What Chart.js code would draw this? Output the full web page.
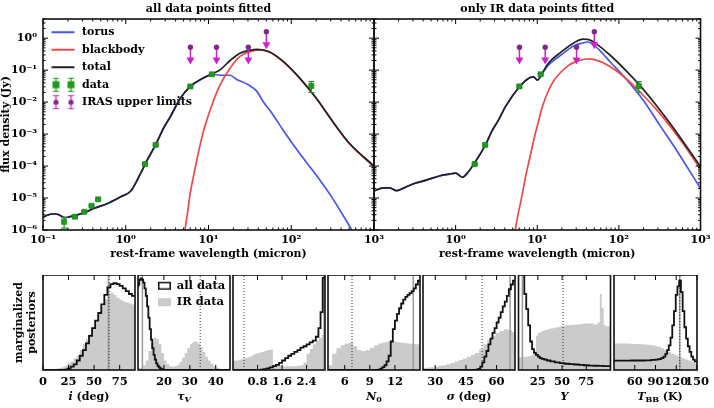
<!DOCTYPE html>
<html><head><meta charset="utf-8">
<script src="https://cdn.jsdelivr.net/npm/chart.js"></script>
<style>
html,body{margin:0;padding:0;background:#fff;}
#wrap{position:relative;width:714px;height:408px;overflow:hidden;background:#fff;}
#wrap canvas{position:absolute;left:0;top:0;}
.xl{position:absolute;top:390px;font:bold 11px "DejaVu Serif",serif;line-height:13px;color:#000;transform:translateX(-50%);white-space:nowrap;}
.xl i{font-style:italic;}
.xl sub{font-size:8px;line-height:0;vertical-align:-2px;}
</style></head><body><div id="wrap"></div>
<script>
// ================= DATA =================
// SED, left panel ("all data points fitted"): wavelength (micron) and flux density (Jy)
const lamTorusA = [0.1,0.115,0.126,0.145,0.158,0.182,0.2,0.24,0.316,0.417,0.603,0.871,1.15,1.51,1.82,2.29,2.88,3.47,4.57,6.03,7.94,11.0,13.8,18.2,21.9,30.2,38.0,45.7,60.3,79.4,126,200,316,525,631];
const fTorusA   = [2.51e-6,2.95e-6,3.16e-6,3.16e-6,2.95e-6,2.45e-6,2.51e-6,2.82e-6,3.47e-6,4.79e-6,6.76e-6,1.10e-5,1.66e-5,5.89e-5,1.55e-4,4.57e-4,1.58e-3,3.55e-3,0.0132,0.0309,0.0501,0.0741,0.0692,0.0692,0.0513,0.0347,0.0224,0.0105,3.98e-3,1.35e-3,2.51e-4,5.25e-5,9.77e-6,1.12e-6,5.0e-7];
const lamBBA = [5.19,5.62,6.03,6.61,7.24,7.94,8.71,11.0,13.8,18.2,24.0,31.6,41.7,55.0,79.4,126,200,316,501,1000];
const fBBA   = [1.0e-6,3.98e-6,1.48e-5,5.01e-5,1.58e-4,4.68e-4,1.26e-3,8.13e-3,0.0347,0.115,0.269,0.380,0.432,0.363,0.186,0.0562,0.0132,2.45e-3,5.13e-4,9.55e-5];
const lamTotA = [0.1,0.115,0.126,0.145,0.158,0.182,0.2,0.24,0.316,0.417,0.603,0.871,1.15,1.51,1.82,2.29,2.88,3.47,4.57,6.03,7.94,11.0,13.8,18.2,24.0,31.6,38.0,45.7,55.0,79.4,126,200,316,501,1000];
const fTotA   = [2.51e-6,2.95e-6,3.16e-6,3.16e-6,2.95e-6,2.45e-6,2.51e-6,2.82e-6,3.47e-6,4.79e-6,6.76e-6,1.10e-5,1.66e-5,5.89e-5,1.55e-4,4.57e-4,1.58e-3,3.55e-3,0.0132,0.0309,0.0501,0.0759,0.102,0.200,0.339,0.417,0.447,0.427,0.372,0.191,0.0575,0.0135,2.51e-3,5.25e-4,1.0e-4];

// SED, right panel ("only IR data points fitted")
const lamTorusB = [0.1,0.13,0.156,0.188,0.226,0.299,0.437,0.631,0.834,1.0,1.21,1.39,1.67,2.32,2.79,3.37,4.06,6.05,7.78,8.95,10.1,11.3,13.6,19.7,28.6,36.1,41.5,52.4,63.1,79.4,127,200,316,501,1000];
const fTorusB   = [1.66e-5,2.09e-5,2.09e-5,1.70e-5,2.0e-5,2.75e-5,3.63e-5,4.90e-5,5.62e-5,6.03e-5,4.47e-5,6.03e-5,1.15e-4,4.57e-4,1.26e-3,2.82e-3,7.08e-3,0.0302,0.0550,0.0617,0.0490,0.0741,0.141,0.302,0.589,0.708,0.759,0.537,0.331,0.174,0.0479,0.0112,1.91e-3,3.31e-4,2.0e-5];
const lamBBB = [5.37,5.89,6.46,7.24,8.15,9.12,10.3,11.7,13.6,16.2,19.7,24.0,28.6,37.8,43.7,50.0,63.1,79.4,100,127,184,293,445,631,1000];
const fBBB   = [1.0e-6,3.55e-6,1.10e-5,5.01e-5,1.95e-4,7.08e-4,2.40e-3,7.94e-3,0.0219,0.0501,0.0891,0.138,0.178,0.219,0.224,0.214,0.174,0.126,0.0832,0.0501,0.0200,5.62e-3,1.51e-3,4.47e-4,7.94e-5];
const lamTotB = [0.1,0.13,0.156,0.188,0.226,0.299,0.437,0.631,0.834,1.0,1.21,1.39,1.67,2.32,2.79,3.37,4.06,6.05,7.78,8.95,10.1,11.3,13.6,19.7,28.6,36.1,41.5,52.4,79.4,127,184,293,447,1000];
const fTotB   = [1.66e-5,2.09e-5,2.09e-5,1.70e-5,2.0e-5,2.75e-5,3.63e-5,4.90e-5,5.62e-5,6.03e-5,4.47e-5,6.03e-5,1.15e-4,4.57e-4,1.26e-3,2.82e-3,7.08e-3,0.0302,0.0550,0.0617,0.0490,0.0750,0.162,0.372,0.733,0.933,0.912,0.676,0.282,0.0871,0.0316,7.41e-3,1.78e-3,9.55e-5];

// photometric data (Jy) with 1-sigma errors; the right panel shows only the IR points
const lamData = [0.18,0.243,0.315,0.386,0.464,1.71,2.30,6.03,11.0,175];
const fData   = [1.8e-6,2.6e-6,3.7e-6,5.7e-6,9.1e-6,1.15e-4,4.6e-4,0.031,0.074,0.032];
const eData   = [0.65e-6,0.15e-6,0.2e-6,0.3e-6,0.5e-6,0.6e-5,0.25e-4,0.0015,0.004,0.012];
const irFirst = 5;
// IRAS upper limits: limit value and arrow-head position
const lamIRAS  = [6.05,12.5,30.3,50.0];
const fIRAS    = [0.52,0.52,0.52,1.6];
const fIRASHead= [0.21,0.21,0.21,0.63];

// tick labels
const sedXTicksLeft  = [0.1,1,10,100,1000];
const sedXTicksRight = [1,10,100,1000];
const sedYTicks      = [1e-6,1e-5,1e-4,1e-3,1e-2,1e-1,1];

// Marginalized posteriors (normalised heights), IR-only (grey) and all data (black)
const iX_ir  = [0,1.5,4.5,7.5,10.5,13.5,16.5,19.5,22.5,25.5,28.5,31.5,34.5,37.5,40.5,43.5,46.5,49.5,52.5,55.5,58.5,61.5,64.5,67.5,70.5,73.5,76.5,79.5,82.5,85.5,88.5,90];
const iIR    = [0,0,0.003,0.005,0.008,0.012,0.02,0.03,0.045,0.07,0.09,0.12,0.155,0.21,0.27,0.32,0.38,0.44,0.51,0.59,0.67,0.745,0.80,0.81,0.79,0.76,0.74,0.72,0.71,0.70,0.69,0.69];
const iX_all = iX_ir;
const iAll   = [0,0,0,0,0,0,0,0,0.005,0.015,0.035,0.06,0.10,0.15,0.21,0.28,0.36,0.44,0.52,0.60,0.69,0.79,0.87,0.905,0.915,0.905,0.885,0.86,0.83,0.80,0.78,0.78];

const tauX_ir  = [10,10.5,11.5,12.5,13.5,14.5,15.5,16.5,17.5,18.5,19.5,20.5,21.5,22.5,23.5,24.5,25.5,26.5,27.5,28.5,29.5,30.5,31.5,32.5,33.5,34.5,35.5,36.5,37.5,38.5,39.5,40.5,41.5,42.5,43.5,44.5,45.5];
const tauIR    = [0.02,0.02,0.03,0.05,0.10,0.20,0.29,0.34,0.33,0.27,0.18,0.10,0.06,0.04,0.035,0.04,0.055,0.085,0.13,0.18,0.23,0.27,0.295,0.30,0.28,0.24,0.19,0.14,0.10,0.065,0.04,0.025,0.015,0.01,0.006,0.004,0.004];
const tauX_all = [10,10.25,10.75,11.25,11.75,12.25,12.75,13.25,13.75,14.25,14.75,15.25,15.75,16.25,16.75,17.25,17.75,18.25,18.75,19.25,19.75,20.25,21,45.5];
const tauAll   = [0.88,0.90,0.95,0.965,0.95,0.92,0.86,0.78,0.67,0.55,0.43,0.32,0.23,0.16,0.11,0.07,0.045,0.028,0.016,0.009,0.004,0.001,0,0];

const qX_ir  = [0,0.05,0.15,0.25,0.35,0.45,0.55,0.65,0.75,0.85,0.95,1.05,1.15,1.25,1.35,1.45,1.55,1.65,1.75,1.85,1.95,2.05,2.15,2.25,2.35,2.45,2.55,2.65,2.75,2.85,2.95,3.0];
const qIR    = [0.10,0.10,0.10,0.11,0.12,0.13,0.14,0.155,0.17,0.18,0.19,0.20,0.21,0.215,0.06,0.05,0.045,0.04,0.04,0.04,0.04,0.04,0.045,0.05,0.08,0.17,0.22,0.27,0.31,0.34,0.37,0.37];
const qX_all = [0,0.75,0.85,0.95,1.05,1.15,1.25,1.35,1.45,1.55,1.65,1.75,1.85,1.95,2.05,2.15,2.25,2.35,2.45,2.55,2.65,2.75,2.82,2.89,2.96,3.0];
const qAll   = [0,0,0.002,0.005,0.01,0.017,0.027,0.04,0.055,0.075,0.10,0.125,0.15,0.17,0.19,0.21,0.235,0.25,0.27,0.29,0.31,0.35,0.44,0.61,0.97,0.97];

const nX_ir  = [4,4.25,4.75,5.25,5.75,6.25,6.75,7.25,7.75,8.25,8.75,9.25,9.75,10.25,10.75,11.25,11.75,12.25,12.75,13.25,13.75,14.25,14.75,15];
const nIR    = [0.05,0.05,0.17,0.23,0.26,0.28,0.29,0.25,0.21,0.20,0.21,0.235,0.26,0.28,0.29,0.30,0.30,0.295,0.29,0.285,0.28,0.275,0.27,0.27];
const nX_all = [4,9.625,9.875,10.125,10.375,10.625,10.875,11.125,11.375,11.625,11.875,12.125,12.375,12.625,12.875,13.125,13.375,13.625,13.875,14.125,14.375,14.625,14.875,15];
const nAll   = [0,0,0.002,0.005,0.015,0.03,0.05,0.09,0.15,0.30,0.43,0.52,0.59,0.65,0.70,0.74,0.77,0.79,0.81,0.83,0.86,0.90,0.94,0.94];

const sX_ir  = [24,24.5,26.5,28.5,30.5,32.5,34.5,36.5,38.5,40.5,42.5,44.5,46.5,48.5,50.5,52.5,54.5,56.5,58.5,60.5,62.5,64.5,66.5,68.5,69];
const sIR    = [0.02,0.02,0.025,0.03,0.035,0.045,0.05,0.06,0.075,0.09,0.105,0.12,0.14,0.16,0.18,0.22,0.27,0.32,0.36,0.39,0.41,0.43,0.42,0.40,0.40];
const sX_all = [24,49.5,50.5,51.5,52.5,53.5,54.5,55.5,56.5,57.5,58.5,59.5,60.5,61.5,62.5,63.5,64.5,65.5,66.5,67.5,68.5,69];
const sAll   = [0,0,0.003,0.012,0.035,0.08,0.14,0.20,0.27,0.33,0.39,0.44,0.50,0.55,0.61,0.67,0.72,0.78,0.85,0.90,0.94,0.94];

const yX_ir  = [5,6,8,10,12,14,16,18,20,22,24,26,28,30,33,36,40,45,50,55,60,65,70,75,80,85,88,90,92,94,97,100];
const yIR    = [0.13,0.13,0.14,0.14,0.14,0.14,0.145,0.15,0.16,0.20,0.36,0.39,0.40,0.41,0.42,0.43,0.44,0.45,0.46,0.47,0.475,0.48,0.485,0.49,0.49,0.48,0.50,0.80,0.65,0.47,0.46,0.455];
const yX_all = [5,6,8,10,12,14,16,18,20,22,24,26,28,30,33,36,40,45,50,55,60,65,70,75,80,85,90,95,100];
const yAll   = [1.3,1.3,1.2,1.05,0.80,0.64,0.47,0.30,0.22,0.18,0.16,0.14,0.125,0.118,0.11,0.10,0.09,0.08,0.072,0.066,0.062,0.058,0.054,0.05,0.047,0.045,0.043,0.041,0.04];

const tX_ir  = [30,31,35,40,45,50,55,60,65,70,75,80,85,90,95,100,105,110,115,120,125,130,135,140,145,149,150];
const tIR    = [0.28,0.28,0.28,0.28,0.28,0.278,0.277,0.275,0.273,0.27,0.268,0.265,0.26,0.255,0.245,0.23,0.21,0.19,0.17,0.155,0.14,0.125,0.11,0.10,0.085,0.075,0.075];
const tX_all = [30,40,50,60,70,80,88,92,96,100,103,105.5,108,110.5,113,115.5,118,120.5,123,125.5,128,130.5,133,135.5,138,140.5,143,145.5,148,150];
const tAll   = [0.098,0.098,0.098,0.10,0.10,0.102,0.106,0.11,0.115,0.125,0.14,0.17,0.21,0.26,0.34,0.47,0.62,0.79,0.88,0.94,0.82,0.62,0.45,0.33,0.25,0.19,0.14,0.11,0.09,0.09];

// reference values per parameter: dotted (all data) and solid grey (IR data)
const bestAll = [64.7,34.0,0.36,6.87,52.9,51,125.2];
const bestIR  = [64.0,11.7,2.97,14.2,66.6,9.0,125.0];

// posterior panel axes
const histRanges = [[0,90],[10,45.5],[0,3],[4,15],[24,69],[5,100],[30,150]];
const histTicks  = [[0,25,50,75],[20,30,40],[0.8,1.6,2.4],[6,9,12],[30,45,60],[25,50,75],[60,90,120,150]];

// ================= RENDERING =================
Chart.defaults.font.family = "'DejaVu Serif', serif";
Chart.defaults.font.weight = 'bold';
Chart.defaults.font.size = 11;
Chart.defaults.color = '#000';
Chart.defaults.animation = false;
Chart.defaults.responsive = false;
Chart.defaults.devicePixelRatio = 1;
Chart.defaults.events = [];
Chart.defaults.plugins.tooltip.enabled = false;
Chart.defaults.plugins.legend.display = false;

const W = 714, H = 408;
function mkCanvas(top, h){ const c = document.createElement('canvas'); c.width = W; c.height = h; c.style.top = top + 'px'; document.getElementById('wrap').appendChild(c); return c; }
const pts = (xs, ys) => xs.map((x, i) => ({x, y: ys[i]}));
const SUP = {'-':'⁻','0':'⁰','1':'¹','2':'²','3':'³','4':'⁴','5':'⁵','6':'⁶','7':'⁷','8':'⁸','9':'⁹'};
const pow10Label = v => '10' + String(Math.round(Math.log10(v))).split('').map(c => SUP[c]).join('');
function logMinor(lo, hi){ const out = []; for (let e = lo; e < hi; e++) for (let k = 2; k <= 9; k++) out.push(k * Math.pow(10, e)); return out; }

const frameTicks = {
  id: 'frameTicks',
  afterDraw(chart, args, o) {
    const {ctx, chartArea: a} = chart; const sx = chart.scales.x, sy = chart.scales.y;
    ctx.save(); ctx.strokeStyle = '#000'; ctx.lineWidth = 1;
    const tx = (vals, len) => vals.forEach(v => { const p = sx.getPixelForValue(v); if (p < a.left - 0.5 || p > a.right + 0.5) return;
      ctx.beginPath(); ctx.moveTo(p, a.bottom); ctx.lineTo(p, a.bottom - len); ctx.moveTo(p, a.top); ctx.lineTo(p, a.top + len); ctx.stroke(); });
    const ty = (vals, len) => vals.forEach(v => { const p = sy.getPixelForValue(v); if (p < a.top - 0.5 || p > a.bottom + 0.5) return;
      ctx.beginPath(); ctx.moveTo(a.left, p); ctx.lineTo(a.left + len, p); ctx.moveTo(a.right, p); ctx.lineTo(a.right - len, p); ctx.stroke(); });
    tx(o.xMajor || [], 5); tx(o.xMinor || [], 2.5); ty(o.yMajor || [], 5); ty(o.yMinor || [], 2.5);
    ctx.lineWidth = 1.6; ctx.strokeStyle = '#111';
    ctx.strokeRect(a.left, a.top, a.right - a.left, a.bottom - a.top);
    ctx.restore();
  }
};
const errBars = {
  id: 'errBars',
  beforeDatasetDraw(chart, args, o) {
    if (!o || !o.x || args.index !== o.dataset) return;
    const {ctx} = chart; const sx = chart.scales.x, sy = chart.scales.y;
    ctx.save(); ctx.strokeStyle = o.color; ctx.lineWidth = 1.2;
    o.x.forEach((xv, i) => {
      const px = sx.getPixelForValue(xv), y1 = sy.getPixelForValue(o.y[i] - o.e[i]), y2 = sy.getPixelForValue(o.y[i] + o.e[i]);
      ctx.beginPath(); ctx.moveTo(px, y1); ctx.lineTo(px, y2);
      ctx.moveTo(px - 3, y1); ctx.lineTo(px + 3, y1); ctx.moveTo(px - 3, y2); ctx.lineTo(px + 3, y2); ctx.stroke();
    });
    ctx.restore();
  }
};

function mkIcon(w, h, draw){ const c = document.createElement('canvas'); c.width = w; c.height = h; draw(c.getContext('2d')); return c; }
const GREEN = '#1f9a1f', PURPLE = '#7d2a85', MAGENTA = '#cc22cc', BLUE = '#4656f0', RED = '#f04848', BLACK = '#222';
const lineIcon = col => mkIcon(27, 10, g => { g.strokeStyle = col; g.lineWidth = 2; g.beginPath(); g.moveTo(2, 5); g.lineTo(25, 5); g.stroke(); });
const dataIcon = mkIcon(27, 16, g => { [6.5, 21.5].forEach(x => { g.strokeStyle = GREEN; g.lineWidth = 1.2; g.beginPath(); g.moveTo(x, 1.5); g.lineTo(x, 14.5); g.moveTo(x-3, 1.5); g.lineTo(x+3, 1.5); g.moveTo(x-3, 14.5); g.lineTo(x+3, 14.5); g.stroke(); g.fillStyle = GREEN; g.fillRect(x-3.5, 4.5, 7, 7); }); });
const irasIcon = mkIcon(27, 16, g => { [6.5, 21.5].forEach(x => { g.strokeStyle = MAGENTA; g.lineWidth = 1.2; g.beginPath(); g.moveTo(x, 1.5); g.lineTo(x, 14.5); g.moveTo(x-3, 1.5); g.lineTo(x+3, 1.5); g.moveTo(x-3, 14.5); g.lineTo(x+3, 14.5); g.stroke(); g.fillStyle = PURPLE; g.beginPath(); g.arc(x, 8, 2.6, 0, Math.PI*2); g.fill(); }); });
const boxIcon = (fill, stroke) => mkIcon(28, 10, g => { g.fillStyle = fill; g.fillRect(15, 1, 13, 8); if (stroke) { g.strokeStyle = stroke; g.lineWidth = 1.5; g.strokeRect(15.75, 1.75, 11.5, 6.5); } });

function sedChart(side) {
  const left = side === 0;
  const L = left ? 43 : 374, R = left ? 374 : 704, T = 19, B = 230;
  const titleH = 19.2, xH = 30.6, yW = left ? 43 : 0;
  const lamT = left ? lamTorusA : lamTorusB, fT = left ? fTorusA : fTorusB;
  const lamB = left ? lamBBA : lamBBB, fB = left ? fBBA : fBBB;
  const lamS = left ? lamTotA : lamTotB, fS = left ? fTotA : fTotB;
  const i0 = left ? 0 : irFirst;
  const dX = lamData.slice(i0), dY = fData.slice(i0), dE = eData.slice(i0);
  const shaft = []; lamIRAS.forEach((l, i) => { shaft.push({x: l, y: fIRAS[i]}, {x: l, y: fIRASHead[i]}, {x: l, y: null}); });
  const curve = (data, col, order) => ({data, borderColor: col, borderWidth: 1.7, pointRadius: 0, fill: false, cubicInterpolationMode: 'monotone', order});
  const datasets = [
    {data: pts(dX, dY), showLine: false, pointStyle: 'rect', pointRadius: 3.6, backgroundColor: GREEN, borderColor: '#187a18', borderWidth: 0.6, order: 0},
    {data: pts(lamIRAS, fIRASHead), showLine: false, pointStyle: 'triangle', pointRotation: 180, pointRadius: 4.6, backgroundColor: MAGENTA, borderColor: MAGENTA, borderWidth: 0, order: 1},
    {data: pts(lamIRAS, fIRAS), showLine: false, pointStyle: 'circle', pointRadius: 2.7, backgroundColor: PURPLE, borderColor: PURPLE, borderWidth: 0, order: 1},
    {data: shaft, borderColor: MAGENTA, borderWidth: 1.5, pointRadius: 0, spanGaps: false, fill: false, order: 2},
    curve(pts(lamS, fS), BLACK, 3),
    curve(pts(lamB, fB), RED, 4),
    curve(pts(lamT, fT), BLUE, 5)
  ];
  return new Chart(mkCanvas(0, H), {
    type: 'line',
    data: {datasets},
    options: {
      layout: {padding: {left: L - yW, right: W - R, top: T - titleH, bottom: H - B - xH}},
      scales: {
        x: {type: 'logarithmic', min: 0.1, max: 1000,
            afterBuildTicks: s => { s.ticks = (left ? sedXTicksLeft : sedXTicksRight).map(v => ({value: v})); },
            afterFit: s => { s.height = xH; },
            grid: {display: false, drawTicks: false}, border: {display: false},
            ticks: {padding: 3.4, autoSkip: false, maxRotation: 0, callback: v => pow10Label(v)},
            title: {display: true, text: 'rest-frame wavelength (micron)', padding: 0}},
        y: {type: 'logarithmic', min: 1e-6, max: 3.98, display: left,
            afterBuildTicks: s => { s.ticks = sedYTicks.map(v => ({value: v})); },
            afterFit: s => { s.width = yW; },
            grid: {display: false, drawTicks: false}, border: {display: false},
            ticks: {padding: 6, autoSkip: false, callback: v => pow10Label(v)},
            title: {display: true, text: 'flux density (Jy)', padding: {top: 0, bottom: 0}}}
      },
      plugins: {
        title: {display: true, text: left ? 'all data points fitted' : 'only IR data points fitted', fullSize: false, padding: {top: 2.5, bottom: 3.5}, font: {size: 11, weight: 'bold'}, color: '#000'},
        legend: left ? {display: true, position: 'chartArea', align: 'start',
          title: {display: true, text: '', font: {size: 1}, padding: {top: 19, bottom: 0}},
          labels: {usePointStyle: true, pointStyleWidth: 27, padding: 6.5, color: '#000', font: {size: 11, weight: 'bold'},
            generateLabels: () => [
              {text: 'torus', pointStyle: lineIcon(BLUE), hidden: false, lineWidth: 0, fontColor: '#000'},
              {text: 'blackbody', pointStyle: lineIcon(RED), hidden: false, lineWidth: 0, fontColor: '#000'},
              {text: 'total', pointStyle: lineIcon(BLACK), hidden: false, lineWidth: 0, fontColor: '#000'},
              {text: 'data', pointStyle: dataIcon, hidden: false, lineWidth: 0, fontColor: '#000'},
              {text: 'IRAS upper limits', pointStyle: irasIcon, hidden: false, lineWidth: 0, fontColor: '#000'}
            ]}} : {display: false},
        frameTicks: {xMajor: sedXTicksLeft, xMinor: logMinor(-1, 3), yMajor: sedYTicks, yMinor: logMinor(-6, 1)},
        errBars: {dataset: 0, x: dX, y: dY, e: dE, color: GREEN}
      }
    },
    plugins: [frameTicks, errBars]
  });
}

const histSeries = [
  [iX_ir, iIR, iX_all, iAll], [tauX_ir, tauIR, tauX_all, tauAll], [qX_ir, qIR, qX_all, qAll],
  [nX_ir, nIR, nX_all, nAll], [sX_ir, sIR, sX_all, sAll], [yX_ir, yIR, yX_all, yAll], [tX_ir, tIR, tX_all, tAll]
];
const histLeft = [43, 138, 233, 328, 423, 518.5, 614];

function histChart(k) {
  const top = 275, ch = H - top;          // canvas starts at the panel top
  const L = histLeft[k], R = L + 92, PH = 95, xH = 20, yW = k === 0 ? 43 : 0;
  const [xi, vi, xa, va] = histSeries[k];
  const datasets = [
    {data: pts(xa, va), stepped: 'middle', borderColor: '#111', borderWidth: 1.8, pointRadius: 0, fill: false, order: 0},
    {data: [{x: bestAll[k], y: 0}, {x: bestAll[k], y: 1}], borderColor: '#333', borderWidth: 1, borderDash: [1, 2], pointRadius: 0, fill: false, order: 1},
    {data: [{x: bestIR[k], y: 0}, {x: bestIR[k], y: 1}], borderColor: '#9a9a9a', borderWidth: 1.5, pointRadius: 0, fill: false, order: 2},
    {data: pts(xi, vi), stepped: 'middle', borderWidth: 0, borderColor: 'rgba(0,0,0,0)', backgroundColor: '#cbcbcb', pointRadius: 0, fill: 'origin', order: 3}
  ];
  return new Chart(mkCanvas(top, ch), {
    type: 'line',
    data: {datasets},
    options: {
      layout: {padding: {left: L - yW, right: W - R, top: 0, bottom: ch - PH - xH}},
      scales: {
        x: {type: 'linear', min: histRanges[k][0], max: histRanges[k][1],
            afterBuildTicks: s => { s.ticks = histTicks[k].map(v => ({value: v})); },
            afterFit: s => { s.height = xH; },
            grid: {display: false, drawTicks: false}, border: {display: false},
            ticks: {padding: 5, autoSkip: false, maxRotation: 0, font: {size: 11.5, weight: 'bold'}, callback: v => String(v)}},
        y: {type: 'linear', min: 0, max: 1, display: k === 0,
            afterFit: s => { s.width = yW; },
            grid: {display: false, drawTicks: false}, border: {display: false},
            ticks: {display: false},
            title: {display: k === 0, text: ['marginalized', 'posteriors'], padding: {top: 12.4, bottom: 0}, font: {size: 11, weight: 'bold'}}}
      },
      plugins: {
        legend: k === 1 ? {display: true, position: 'chartArea', align: 'start',
          labels: {usePointStyle: true, pointStyleWidth: 28, padding: 5, color: '#000', font: {size: 11.5, weight: 'bold'},
            generateLabels: () => [
              {text: 'all data', pointStyle: boxIcon('#fff', '#111'), hidden: false, lineWidth: 0, fontColor: '#000'},
              {text: 'IR data', pointStyle: boxIcon('#cbcbcb', null), hidden: false, lineWidth: 0, fontColor: '#000'}
            ]}} : {display: false},
        frameTicks: {xMajor: histTicks[k]}
      }
    },
    plugins: [frameTicks]
  });
}

sedChart(0); sedChart(1);
for (let k = 0; k < 7; k++) histChart(k);

// x-axis labels of the posterior panels (rich text)
const histLabels = ['<i>i</i> (deg)', '<i>τ<sub>V</sub></i>', '<i>q</i>', '<i>N</i><sub>0</sub>', '<i>σ</i> (deg)', '<i>Y</i>', '<i>T</i><sub>BB</sub> (K)'];
histLabels.forEach((h, k) => { const d = document.createElement('div'); d.className = 'xl'; d.style.left = (histLeft[k] + 46) + 'px'; d.innerHTML = h; document.getElementById('wrap').appendChild(d); });
</script>
</body></html>
